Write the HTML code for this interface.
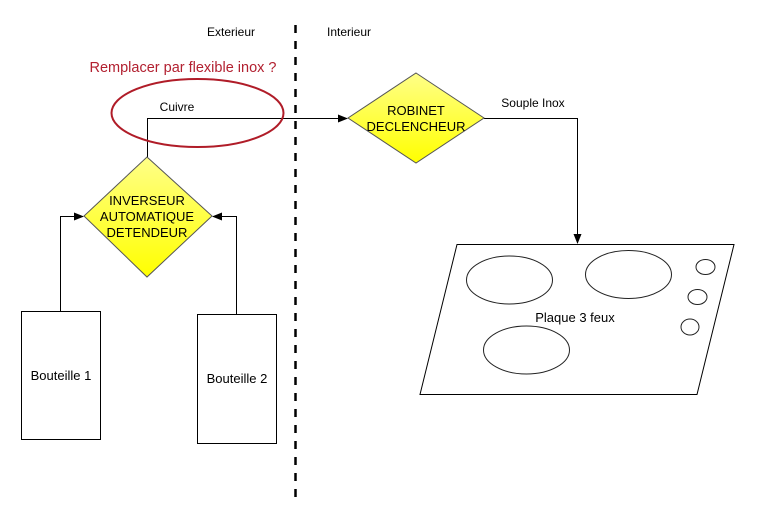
<!DOCTYPE html>
<html><head><meta charset="utf-8"><style>
html,body{margin:0;padding:0;background:#fff;}
svg{display:block;font-family:"Liberation Sans",Arial,sans-serif;}
</style></head><body>
<svg width="766" height="517" viewBox="0 0 766 517" xmlns="http://www.w3.org/2000/svg">
<defs>
<linearGradient id="y" x1="0" y1="0" x2="0" y2="1"><stop offset="0" stop-color="#ffff88"/><stop offset="1" stop-color="#ffff00"/></linearGradient>
<marker id="a" markerWidth="10" markerHeight="8" refX="9" refY="4" orient="auto" markerUnits="userSpaceOnUse"><path d="M0,0 L10,4 L0,8 Z" fill="#000"/></marker>
</defs>
<rect width="766" height="517" fill="#fff"/>
<line x1="295.5" y1="25" x2="295.5" y2="500" stroke="#000" stroke-width="2.5" stroke-dasharray="8,8"/>
<text x="231" y="36" font-size="12" text-anchor="middle">Exterieur</text>
<text x="349" y="36" font-size="12" text-anchor="middle">Interieur</text>
<text x="183" y="72" font-size="14.5" fill="#b22030" text-anchor="middle">Remplacer par flexible inox ?</text>
<polyline points="147.5,157 147.5,118.5 347,118.5" fill="none" stroke="#000" stroke-width="1" marker-end="url(#a)"/>
<polyline points="484,118.5 577.5,118.5 577.5,243" fill="none" stroke="#000" stroke-width="1" marker-end="url(#a)"/>
<polyline points="60.5,311 60.5,216.5 83,216.5" fill="none" stroke="#000" stroke-width="1" marker-end="url(#a)"/>
<polyline points="236.5,315 236.5,216.5 213,216.5" fill="none" stroke="#000" stroke-width="1" marker-end="url(#a)"/>
<ellipse cx="197.5" cy="113" rx="86" ry="34" fill="none" stroke="#b01c28" stroke-width="2"/>
<text x="177" y="111" font-size="12" text-anchor="middle">Cuivre</text>
<text x="533" y="107" font-size="12" text-anchor="middle">Souple Inox</text>
<polygon points="147,157 212,216 147,277 84,216" fill="url(#y)" stroke="#555" stroke-width="1"/>
<text font-size="13" text-anchor="middle"><tspan x="147" y="205">INVERSEUR</tspan><tspan x="147" y="221">AUTOMATIQUE</tspan><tspan x="147" y="237">DETENDEUR</tspan></text>
<polygon points="416,73 484,118 416,163 348,118" fill="url(#y)" stroke="#555" stroke-width="1"/>
<text font-size="13" text-anchor="middle"><tspan x="416" y="115">ROBINET</tspan><tspan x="416" y="131">DECLENCHEUR</tspan></text>
<rect x="21.5" y="311.5" width="79" height="128" fill="#fff" stroke="#000"/>
<text x="61" y="380" font-size="13" text-anchor="middle">Bouteille 1</text>
<rect x="197.5" y="314.5" width="79" height="129" fill="#fff" stroke="#000"/>
<text x="237" y="383" font-size="13" text-anchor="middle">Bouteille 2</text>
<polygon points="457,244.5 734,244.5 697,394.5 420,394.5" fill="#fff" stroke="#000" stroke-width="1"/>
<ellipse cx="509.5" cy="280" rx="43" ry="24" fill="none" stroke="#222"/>
<ellipse cx="628.5" cy="274.5" rx="43" ry="24" fill="none" stroke="#222"/>
<ellipse cx="526.5" cy="350" rx="43" ry="24" fill="none" stroke="#222"/>
<ellipse cx="705.5" cy="267" rx="9.5" ry="7.5" fill="none" stroke="#222"/>
<ellipse cx="697.5" cy="297" rx="9.5" ry="7.5" fill="none" stroke="#222"/>
<ellipse cx="690" cy="327" rx="9" ry="8" fill="none" stroke="#222"/>
<text x="575" y="322" font-size="13" text-anchor="middle">Plaque 3 feux</text>
</svg>
</body></html>
